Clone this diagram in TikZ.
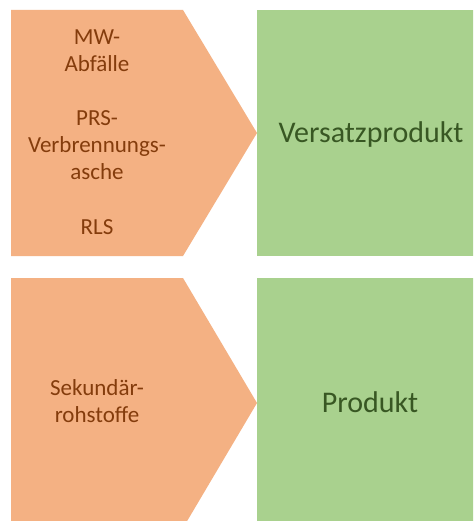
\documentclass[tikz,border=0pt]{standalone}
\usepackage{fontspec}
\setmainfont{Carlito}
\definecolor{orfill}{HTML}{F4B183}
\definecolor{ortext}{HTML}{843C0C}
\definecolor{grfill}{HTML}{A9D18E}
\definecolor{grtext}{HTML}{385723}
\tikzset{
  chev/.style={fill=orfill, draw=none},
  gbox/.style={fill=grfill, draw=none},
  otext/.style={text=ortext, font=\fontsize{23}{27}\selectfont, anchor=base, inner sep=0pt},
  gtext/.style={text=grtext, font=\fontsize{30}{36}\selectfont, anchor=base, inner sep=0pt}
}
\begin{document}
\begin{tikzpicture}[x=1pt,y=-1pt]
\useasboundingbox (0,0) rectangle (473,521);
\clip (0,0) rectangle (473,521);
\fill[white] (0,0) rectangle (473,521);
% top row
\path[chev] (11,10) -- (183,10) -- (257,133) -- (183,256) -- (11,256) -- cycle;
\path[gbox] (257,10) rectangle (480,256);
% bottom row
\path[chev] (11,278) -- (183,278) -- (257,403) -- (183,528) -- (11,528) -- cycle;
\path[gbox] (257,278) rectangle (480,530);
% texts
\node[otext] (t1) at (97,45) {MW-};
\node[otext] (t2) at (97,72) {Abfälle};
\node[otext] (t3) at (97,126) {PRS-};
\node[otext] (t4) at (97,153) {Verbrennungs-};
\node[otext] (t5) at (97,180) {asche};
\node[otext] (t6) at (97,234) {RLS};
\node[gtext] (v) at (371,143) {Versatzprodukt};
\node[otext] (s1) at (97,395) {Sekundär-};
\node[otext] (s2) at (97,422) {rohstoffe};
\node[gtext] (p) at (370,412) {Produkt};
\end{tikzpicture}
\end{document}
